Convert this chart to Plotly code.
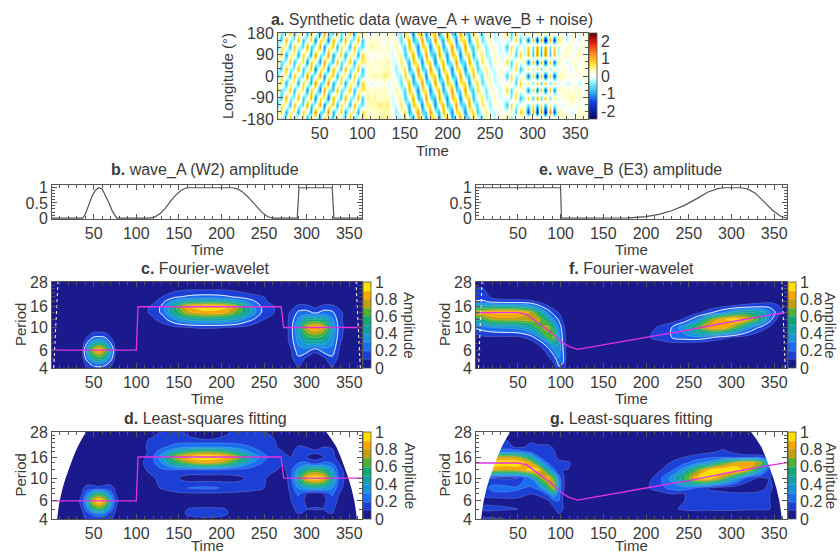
import plotly.graph_objects as go

W, H = 840, 554

# ---------- panel a: synthetic data (tenths), 5-day steps, longitude rows from +180 to -180
a_time = list(range(0, 370, 5))
a_lon = [180, 150, 120, 90, 60, 30, 0, -30, -60, -90, -120, -150, -180]
a_p180 = [10,-6,-2,9,-9,2,6,-10,6,2,-11,12,-3,-8,10,-6,-2,9,-9,2,6, 1,-3,1,2,1,2, 2,-2,-4,8,0,-11,9,5,-12,5,9,-11,0,11,-9,-5,12,-5,-8,9,0,-6,4,2,-3,1,1, 8,-7,4,0, -3,6,-4,8,-3,6,-2,5,-2, 2,-2,1,3,-1,2,1]
a_p150 = [0,-8,10,-4,-4,10,-8,0,8,-12,6,5,-13,10,0,-8,10,-4,-4,10,-8, 3,2,3,1,-1,2, 1,2,-6,1,10,-9,-3,12,-6,-7,12,-2,-10,9,3,-12,6,7,-11,1,7,-6,-1,4,-2,-1,1, 0,-4,7,-8, 3,-14,10,-20,14,-24,12,-18,6, 3,-3,2,1,-2,2,0]
a_p120 = [-10,6,2,-9,9,-2,-6,12,-8,-2,11,-12,3,8,-10,6,2,-9,9,-2,-6, 2,4,2,3,1,3, -1,4,-2,-7,10,2,-12,7,6,-12,3,9,-10,-2,12,-7,-6,12,-3,-8,7,1,-5,2,2,-2,0, -8,7,-4,0, -2,8,-6,12,-8,12,-6,8,-3, 1,2,3,-2,2,1,2]
a_p90 = [0,8,-10,4,4,-10,8,0,-10,12,-5,-4,12,-10,0,8,-10,4,4,-10,8, 1,-1,2,0,2,1, -2,2,4,-8,0,11,-9,-5,12,-5,-9,11,0,-11,9,5,-12,5,8,-9,0,6,-4,-2,3,-1,-1, 0,4,-7,8, -3,10,-8,14,-10,14,-8,10,-3, 2,3,-1,2,3,1,-2]
a_p60 = [10,-6,-2,9,-9,2,6,-12,8,2,-11,12,-2,-8,10,-6,-2,9,-9,2,6, 3,1,2,3,2,4, -1,-2,6,-1,-10,9,3,-12,6,7,-12,2,10,-9,-3,12,-6,-7,11,-1,-7,6,1,-4,2,1,-1, 8,-7,4,0, 4,-14,10,-18,12,-18,10,-14,4, 1,-2,2,2,-1,3,1]
a_p30 = [0,-8,10,-4,-4,10,-8,0,10,-13,5,5,-12,10,0,-8,10,-4,-4,10,-8, 2,3,1,2,3,3, 1,-4,2,7,-10,-2,12,-7,-6,12,-3,-9,10,2,-12,7,6,-12,3,8,-7,-1,5,-2,-2,2,0, 0,-4,7,-8, -2,6,-4,8,-6,6,-4,4,-2, 2,1,-2,3,1,2,-1]
a_p0 = [-10,6,2,-9,9,-2,-6,13,-8,-2,12,-12,3,8,-10,6,2,-9,9,-2,-6, 2,3,4,3,5,4, 2,-2,-4,8,0,-11,9,5,-12,5,9,-11,0,11,-9,-5,12,-5,-8,9,0,-6,4,2,-3,1,1, -8,7,-4,0, 3,-14,9,-18,12,-20,10,-16,4, 3,1,2,-1,2,1,2]
a_m30 = [0,8,-10,4,4,-10,8,0,-10,13,-6,-5,13,-10,0,8,-10,4,4,-10,8, 1,-2,1,-1,2,-2, 1,2,-6,1,10,-9,-3,12,-6,-7,12,-2,-10,9,3,-12,6,7,-11,1,7,-6,-1,4,-2,-1,1, 0,4,-7,8, -2,6,-6,10,-8,10,-6,6,-2, 1,-2,-1,2,-3,1,1]
a_m60 = [10,-6,-2,9,-9,2,6,-12,8,2,-12,12,-3,-8,10,-6,-2,9,-9,2,6, 3,2,3,2,3,2, -1,4,-2,-7,10,2,-12,7,6,-12,3,9,-10,-2,12,-7,-6,12,-3,-8,7,1,-5,2,2,-2,0, 8,-7,4,0, 3,-12,9,-14,10,-16,10,-12,3, 2,3,1,3,2,-1,2]
a_m90 = [0,-8,10,-4,-4,10,-8,0,10,-12,6,5,-13,10,0,-8,10,-4,-4,10,-8, 4,3,4,2,3,3, -2,2,4,-8,0,11,-9,-5,12,-5,-9,11,0,-11,9,5,-12,5,8,-9,0,6,-4,-2,3,-1,-1, 0,-4,7,-8, -3,8,-8,12,-8,10,-6,6,-2, 2,1,4,3,1,2,1]
a_m120 = [-10,6,2,-9,9,-2,-6,12,-8,-2,11,-12,3,8,-10,6,2,-9,9,-2,-6, 3,4,3,5,4,5, -1,-2,6,-1,-10,9,3,-12,6,7,-12,2,10,-9,-3,12,-6,-7,11,-1,-7,6,1,-4,2,1,-1, -8,7,-4,0, 2,-6,6,-8,6,-8,5,-4,2, -2,1,2,-1,2,-2,1]
a_m150 = [0,8,-10,4,4,-10,8,0,-10,13,-6,-5,13,-10,0,8,-10,4,4,-10,8, 2,1,3,2,4,3, 1,-4,2,7,-10,-2,12,-7,-6,12,-3,-9,10,2,-12,7,6,-12,3,8,-7,-1,5,-2,-2,2,0, 0,4,-7,8, 4,-16,12,-20,14,-22,14,-16,4, 2,1,-2,1,2,3,1]
a_m180 = [10,-6,-2,9,-9,2,6,-11,6,2,-10,10,-2,-7,10,-6,-2,9,-9,2,6, 3,2,4,3,5,2, 2,-2,-4,8,0,-11,9,5,-12,5,9,-11,0,11,-9,-5,12,-5,-8,9,0,-6,4,2,-3,1,1, 8,-7,4,0, -3,8,-6,10,-7,8,-5,6,-2, 3,2,1,2,3,1,2]
a_rows = [a_p180, a_p150, a_p120, a_p90, a_p60, a_p30, a_p0, a_m30, a_m60, a_m90, a_m120, a_m150, a_m180]

# ---------- panels b, e: amplitude curves
b_time = [1,37,40,44,48,52,56,60,64,68,72,76,77,116,122,128,134,140,146,152,158,161,212,218,224,230,236,242,248,254,260,289,291,330,332,365]
b_amp = [0,0,.12,.45,.72,.92,1,.95,.75,.5,.22,.02,0,0,.04,.15,.32,.55,.75,.9,.99,1,1,.97,.88,.73,.55,.35,.18,.05,0,0,1,1,0,0]
e_time = [1,100,101,160,180,200,215,230,245,260,272,285,292,310,318,328,338,348,358,365]
e_amp = [1,1,0,0,.01,.05,.12,.24,.42,.65,.85,.98,1,1,.97,.82,.55,.26,.05,0]

# ---------- wavelet panels (hundredths), rows ascending in period
periods = [4,4.5,5,6,7,8,10,12,14,16,18,20,24,28]
left_time = [1,20,36,42,49,56,63,70,76,90,105,118,130,145,160,175,190,205,220,235,250,262,272,282,290,300,310,320,330,338,350,365]
right_time = [1,10,20,35,50,65,75,85,92,98,103,108,120,160,200,215,230,245,260,275,290,305,320,335,345,355,365]

c_rows = [
 [0,0,2,8,14,16,14,8,2,0, 0,0,0,0,0,0,0,0,0,0,0,0,0, 2,10,2,0,2,10,2,0,0],
 [0,0,3,16,28,34,28,16,3,0, 0,0,0,0,0,0,0,0,0,0,0,0,0, 5,14,5,0,5,14,4,0,0],
 [0,0,5,26,50,58,50,26,5,0, 0,0,0,0,0,0,0,0,0,0,0,0,0, 8,18,8,2,8,18,8,0,0],
 [0,0,6,36,76,92,76,36,6,0, 0,0,0,0,0,0,0,0,0,0,0,0,0, 10,26,26,14,26,26,10,0,0],
 [0,0,4,20,44,52,44,20,5,0, 0,0,0,0,0,0,0,0,0,0,0,0,0, 14,32,42,42,42,32,12,0,0],
 [0,0,2,10,20,22,20,10,3,0, 0,0,0,0,0,0,0,0,0,0,0,0,0, 16,36,56,62,56,36,15,0,0],
 [0,0,0,0,0,0,0,0,0,0, 0,2,5,8,10,11,11,10,8,5,2,0,0, 16,42,80,92,80,42,16,2,0],
 [0,0,0,0,0,0,0,0,0,0, 3,8,14,30,42,46,46,44,36,22,10,5,3, 14,32,48,50,48,32,14,2,0],
 [0,0,0,0,0,0,0,0,0,0, 6,12,22,52,76,84,86,80,64,38,15,10,3, 12,22,24,18,24,22,14,2,0],
 [0,0,0,0,0,0,0,0,0,0, 4,12,22,55,88,97,98,93,70,36,15,10,1, 6,14,14,8,14,14,8,0,0],
 [0,0,0,0,0,0,0,0,0,0, 0,6,16,36,46,50,50,46,38,24,12,6,0, 0,3,3,2,3,3,0,0,0],
 [0,0,0,0,0,0,0,0,0,0, 0,3,10,18,22,24,24,22,18,14,10,3,0, 0,0,0,0,0,0,0,0,0],
 [0,0,0,0,0,0,0,0,0,0, 0,0,3,6,8,8,8,8,6,3,0,0,0, 0,0,0,0,0,0,0,0,0],
 [0,0,0,0,0,0,0,0,0,0, 0,0,0,0,0,0,0,0,0,0,0,0,0, 0,0,0,0,0,0,0,0,0],
]
d_rows = [
 [0,0,6,12,14,14,14,12,6,0, 0,0,0,0,5,8,8,5,0,0,0,0,0, 5,10,3,3,3,10,3,0,0],
 [0,0,8,16,24,28,24,16,8,0, 0,0,0,0,12,14,14,12,0,0,0,0,0, 6,10,3,2,3,10,4,0,0],
 [0,0,10,26,50,60,50,26,10,0, 0,0,0,3,10,12,12,10,5,0,0,0,0, 8,12,10,12,10,12,6,0,0],
 [0,0,12,40,84,100,84,40,12,0, 0,0,0,0,0,0,0,0,0,0,0,0,0, 10,15,8,3,8,15,8,1,0],
 [0,0,10,26,46,56,46,26,10,0, 0,0,0,8,8,8,8,8,8,8,0,0,0, 12,22,10,4,10,22,10,0,0],
 [0,0,8,14,14,12,14,14,8,0, 0,3,12,14,20,22,22,18,14,12,10,3,0, 15,30,38,40,38,30,14,2,0],
 [0,0,0,0,0,0,0,0,0,0, 0,8,14,12,5,4,4,5,8,12,12,3,0, 18,50,90,100,90,50,16,4,0],
 [0,0,0,0,0,0,0,0,0,0, 6,14,18,20,18,20,20,18,16,15,12,12,6, 18,34,52,58,52,34,14,3,0],
 [0,0,0,0,0,0,0,0,0,0, 8,16,30,52,68,78,78,68,48,30,18,14,12, 12,20,22,14,22,20,10,0,0],
 [0,0,0,0,0,0,0,0,0,0, 6,16,36,72,92,100,100,92,70,40,24,14,12, 10,14,10,6,10,14,4,0,0],
 [0,0,0,0,0,0,0,0,0,0, 4,14,26,44,58,64,64,58,42,28,18,14,10, 8,14,14,12,14,14,0,0,0],
 [0,0,0,0,0,0,0,0,0,0, 8,12,18,24,28,30,30,28,24,20,16,12,6, 0,12,10,6,10,8,0,0,0],
 [0,0,0,0,0,0,0,0,0,0, 5,12,15,14,12,10,10,12,14,15,13,10,0, 0,0,0,0,0,0,0,0,0],
 [0,0,0,0,0,0,0,0,0,0, 0,0,12,15,8,3,3,8,14,15,12,0,0, 0,0,0,0,0,0,0,0,0],
]
f_rows = [
 [0,0,0,0,0,0,0,0,5,18,18,2,0, 0,0,0,0,0,0,0,0,0,0,0,0,0,0],
 [0,0,0,0,0,0,0,5,10,24,20,3,0, 0,0,0,0,0,0,0,0,0,0,0,0,0,0],
 [0,0,0,0,0,0,0,8,15,30,22,4,0, 0,0,0,0,0,0,0,0,0,0,0,0,0,0],
 [0,0,0,0,0,0,5,14,30,36,20,4,0, 0,0,0,0,0,0,0,0,0,0,0,0,0,0],
 [0,0,0,0,1,6,12,30,48,40,18,4,0, 0,3,6,8,8,6,4,0,0,0,0,0,0,0],
 [5,8,8,8,8,14,30,62,72,34,16,4,0, 0,8,14,20,26,28,22,14,8,4,0,0,0,0],
 [22,26,30,32,34,48,66,76,52,28,14,3,0, 0,3,12,20,38,64,86,88,64,34,16,8,0,0],
 [52,60,72,74,74,76,72,50,30,18,8,0,0, 0,0,0,4,12,30,66,88,96,80,54,24,6,0],
 [80,86,92,94,92,78,52,28,16,10,5,0,0, 0,0,0,0,3,8,18,30,46,52,46,30,14,6],
 [45,48,48,48,46,38,24,12,6,2,0,0,0, 0,0,0,0,0,0,5,10,14,18,20,18,12,0],
 [22,22,16,14,14,12,8,4,0,0,0,0,0, 0,0,0,0,0,0,0,0,0,3,6,8,5,0],
 [12,14,8,5,5,4,2,0,0,0,0,0,0, 0,0,0,0,0,0,0,0,0,0,0,0,0,0],
 [12,10,3,0,0,0,0,0,0,0,0,0,0, 0,0,0,0,0,0,0,0,0,0,0,0,0,0],
 [0,0,0,0,0,0,0,0,0,0,0,0,0, 0,0,0,0,0,0,0,0,0,0,0,0,0,0],
]
g_rows = [
 [0,12,12,10,10,8,6,2,2,10,10,0,0, 0,0,0,0,0,0,0,0,0,0,0,0,0,0],
 [0,3,3,3,3,2,2,2,3,10,10,0,0, 0,0,0,4,4,3,2,2,2,2,2,0,0,0],
 [0,14,14,12,10,8,6,3,8,14,10,0,0, 0,0,0,8,12,14,14,14,14,12,12,10,4,0],
 [0,5,5,5,6,4,6,8,18,20,8,0,0, 0,0,0,4,10,14,18,20,16,14,12,10,5,0],
 [0,14,16,18,16,10,12,22,40,24,10,0,0, 0,2,5,10,10,12,14,14,12,12,12,10,4,0],
 [0,14,24,24,22,18,24,52,80,30,12,3,0, 0,8,16,24,26,18,8,4,3,3,8,12,5,0],
 [0,10,10,8,10,30,65,90,65,24,12,4,0, 0,4,16,34,60,90,96,70,40,14,8,10,4,0],
 [0,78,80,78,80,96,90,44,22,14,10,10,0, 0,0,8,18,36,66,92,100,100,78,40,12,3,0],
 [0,85,100,100,100,80,45,20,14,12,14,14,0, 0,0,2,12,18,28,36,60,80,90,70,28,4,0],
 [0,50,72,76,70,45,20,14,12,8,3,0,0, 0,0,0,4,10,14,18,18,14,14,16,6,0,0],
 [0,10,22,28,26,18,14,14,12,4,0,0,0, 0,0,0,0,0,6,8,12,8,5,0,0,0,0],
 [0,0,6,14,8,12,14,14,8,0,0,0,0, 0,0,0,0,0,0,2,8,8,3,0,0,0,0],
 [0,0,0,10,8,8,0,0,0,0,0,0,0, 0,0,0,0,0,0,0,0,0,0,0,0,0,0],
 [0,0,0,0,0,0,0,0,0,0,0,0,0, 0,0,0,0,0,0,0,0,0,0,0,0,0,0],
]

# true-period lines
a_line_t = [1,100,102,270,273,365]
a_line_p = [6,6,16,16,10,10]
b_line_t = [1,50,60,75,90,100,110,120,130,160,200,250,300,350,365]
b_line_p = [14,14,13.5,11,8.8,7.3,6.5,6.1,6.3,7,8,9.45,11.4,13.5,14.1]

# cone of influence edges for the least-squares panels
coi_p = [4,5,6,8,10,13,16,20,24,28]
coi_left = [7,8.5,10,13.5,17,22,26,31,36,41]
coi_right = [359,357.5,356,352.5,349,344,340,335,329,323]

# ---------- styles
INK = "#3a3a3a"
FONT = "Liberation Sans"
TICK = 16
LABEL = 15
TITLE = 16
bands = ["#1a1a8c", "#1c3fd6", "#1a6ef0", "#1795d8", "#10a0a8", "#10a878", "#50b030", "#c0a010", "#f5a800", "#ffe000"]
band_scale = []
for i, c in enumerate(bands):
    band_scale += [[i / 10, c], [(i + 1) / 10, c]]
wave_scale = [[0, "#05055a"], [.07, "#0a1a9a"], [.195, "#1040e0"], [.30, "#2aa8f4"], [.40, "#70ecf6"], [.46, "#c8ffff"],
              [.5, "#ffffff"], [.56, "#ffffc0"], [.64, "#ffe030"], [.76, "#ff8c20"], [.886, "#e02010"], [1, "#600000"]]

def fx(px): return px / W
def fy(py): return 1 - py / H

fig = go.Figure()
layout = dict(width=W, height=H, autosize=False, margin=dict(l=0, r=0, t=0, b=0, autoexpand=False), paper_bgcolor="white",
              plot_bgcolor="white", showlegend=False, font=dict(family=FONT, size=TICK, color=INK))
annotations = []

def text(px, py, s, size=LABEL, angle=0):
    annotations.append(dict(x=fx(px), y=fy(py), xref="paper", yref="paper", text=s, showarrow=False,
                            font=dict(family=FONT, size=size, color=INK), textangle=angle,
                            xanchor="center", yanchor="middle"))

def axes(n, x0, x1, y0, y1, yargs, time_gap=31):
    s = "" if n == 1 else str(n)
    common = dict(showgrid=False, zeroline=False, showline=True, linecolor="#555555", linewidth=1, mirror="allticks",
                  ticks="inside", ticklen=5, tickwidth=0.8, tickcolor="#555555", tickfont=dict(family=FONT, size=TICK, color=INK))
    layout["xaxis" + s] = dict(common, domain=[fx(x0), fx(x1)], anchor="y" + s, range=[1, 365], tick0=0, dtick=50,
                               minor=dict(ticks="inside", ticklen=3, tickwidth=0.7, tickcolor="#555555", dtick=10, tick0=0, showgrid=False))
    layout["yaxis" + s] = dict(common, domain=[fy(y1), fy(y0)], anchor="x" + s, **yargs)
    text((x0 + x1) / 2, y1 + time_gap, "Time")

LOG_Y = dict(type="log", range=[0.60206, 1.44716], tickvals=[4, 6, 10, 16, 28], ticktext=["4", "6", "10", "16", "28"],
             minor=dict(ticks="inside", ticklen=3, tickwidth=0.7, tickcolor="#555555", tickvals=[5, 7, 8, 9, 12, 14, 18, 20, 22, 24, 26], showgrid=False))
AMP_Y = dict(range=[-0.03, 1.09], tickvals=[0, .5, 1], ticktext=["0", "0.5", "1"],
             minor=dict(ticks="inside", ticklen=3, tickwidth=0.7, tickcolor="#555555", tickvals=[.1, .2, .3, .4, .6, .7, .8, .9], showgrid=False))

# panel a
axes(1, 278, 588, 33, 119, dict(range=[-180, 180], tickvals=[-180, -90, 0, 90, 180], ticktext=["-180", "-90", "0", "90", "180"],
                                minor=dict(ticks="inside", ticklen=3, tickwidth=0.7, tickcolor="#555555", dtick=30, showgrid=False)))
fig.add_trace(go.Heatmap(x=a_time, y=a_lon, z=[[v / 10 for v in r] for r in a_rows], zsmooth="best", zmin=-2.46, zmax=2.46,
                         colorscale=wave_scale, xaxis="x", yaxis="y",
                         colorbar=dict(x=fx(589), xanchor="left", y=fy(76), yanchor="middle", len=86 / H, lenmode="fraction",
                                       thickness=8, xpad=0, ypad=0, tickvals=[-2, -1, 0, 1, 2], ticktext=["-2", "-1", "0", "1", "2"],
                                       ticks="", outlinewidth=0.8, outlinecolor="#555555", tickfont=dict(family=FONT, size=TICK, color=INK))))
text(432, 20, "<b>a.</b> Synthetic data (wave_A + wave_B + noise)", TITLE)
text(228, 76, "Longitude (°)", angle=-90)

# panels b, e
axes(2, 52, 362, 185, 219, AMP_Y)
fig.add_trace(go.Scatter(x=b_time, y=b_amp, mode="lines", line=dict(color="#555555", width=1.2), xaxis="x2", yaxis="y2"))
text(205, 170, "<b>b.</b> wave_A (W2) amplitude", TITLE)
axes(3, 476, 787, 185, 219, AMP_Y)
fig.add_trace(go.Scatter(x=e_time, y=e_amp, mode="lines", line=dict(color="#555555", width=1.2), xaxis="x3", yaxis="y3"))
text(630, 170, "<b>e.</b> wave_B (E3) amplitude", TITLE)

def wavelet(n, x0, x1, y0, y1, xs, rows, line_t, line_p, title, tx, strong, coi=None, dash=None, gap=30):
    s = str(n)
    axes(n, x0, x1, y0, y1, LOG_Y, gap)
    z = [[v / 100 for v in r] for r in rows]
    fig.add_trace(go.Contour(x=xs, y=periods, z=z, zmin=0, zmax=1, colorscale=band_scale, xaxis="x" + s, yaxis="y" + s,
                             contours=dict(start=0.1, end=0.9, size=0.1, coloring="fill"),
                             line=dict(color="rgba(255,255,255,0.35)", width=0.5, smoothing=1),
                             colorbar=dict(x=fx(x1 + 1), xanchor="left", y=fy((y0 + y1) / 2), yanchor="middle", len=(y1 - y0) / H,
                                           lenmode="fraction", thickness=8, xpad=0, ypad=0, tickvals=[0, .2, .4, .6, .8, 1],
                                           ticktext=["0", "0.2", "0.4", "0.6", "0.8", "1"], ticks="", outlinewidth=0.8,
                                           outlinecolor="#555555", tickfont=dict(family=FONT, size=TICK, color=INK))))
    if strong:
        fig.add_trace(go.Contour(x=xs, y=periods, z=z, showscale=False, xaxis="x" + s, yaxis="y" + s,
                                 contours=dict(start=0.2, end=0.2, size=0.1, coloring="none"),
                                 line=dict(color="rgba(255,255,255,0.85)", width=1, smoothing=1)))
    if coi:
        fig.add_trace(go.Scatter(x=[1] + coi_left + [1], y=[4] + coi_p + [28], fill="toself", fillcolor="white", mode="none",
                                 xaxis="x" + s, yaxis="y" + s))
        fig.add_trace(go.Scatter(x=[365] + coi_right + [365], y=[4] + coi_p + [28], fill="toself", fillcolor="white", mode="none",
                                 xaxis="x" + s, yaxis="y" + s))
    if dash:
        for tt in dash:
            fig.add_trace(go.Scatter(x=tt, y=[4, 28], mode="lines", line=dict(color="white", width=1, dash="3px,3px"),
                                     xaxis="x" + s, yaxis="y" + s))
    fig.add_trace(go.Scatter(x=line_t, y=line_p, mode="lines", line=dict(color="rgb(225,50,225)", width=1.3), xaxis="x" + s, yaxis="y" + s))
    text(tx, y0 - 14, title, TITLE)
    text(x0 - 32, (y0 + y1) / 2, "Period", angle=-90)
    text(min(x1 + 48, 831), (y0 + y1) / 2, "Amplitude", angle=90)

wavelet(4, 52, 362, 282, 368, left_time, c_rows, a_line_t, a_line_p, "<b>c.</b> Fourier-wavelet", 205, True, dash=[[3, 8], [363, 358]])
wavelet(5, 52, 362, 432, 519, left_time, d_rows, a_line_t, a_line_p, "<b>d.</b> Least-squares fitting", 205, False, coi=True, gap=26)
wavelet(6, 476, 787, 282, 368, right_time, f_rows, b_line_t, b_line_p, "<b>f.</b> Fourier-wavelet", 631, True, dash=[[4, 8], [363, 359]])
wavelet(7, 476, 787, 432, 519, right_time, g_rows, b_line_t, b_line_p, "<b>g.</b> Least-squares fitting", 631, False, coi=True, gap=26)

layout["annotations"] = annotations
fig.update_layout(**layout)
fig.write_html("out.html", config=dict(displayModeBar=False), post_script="document.body.style.margin='0';")
